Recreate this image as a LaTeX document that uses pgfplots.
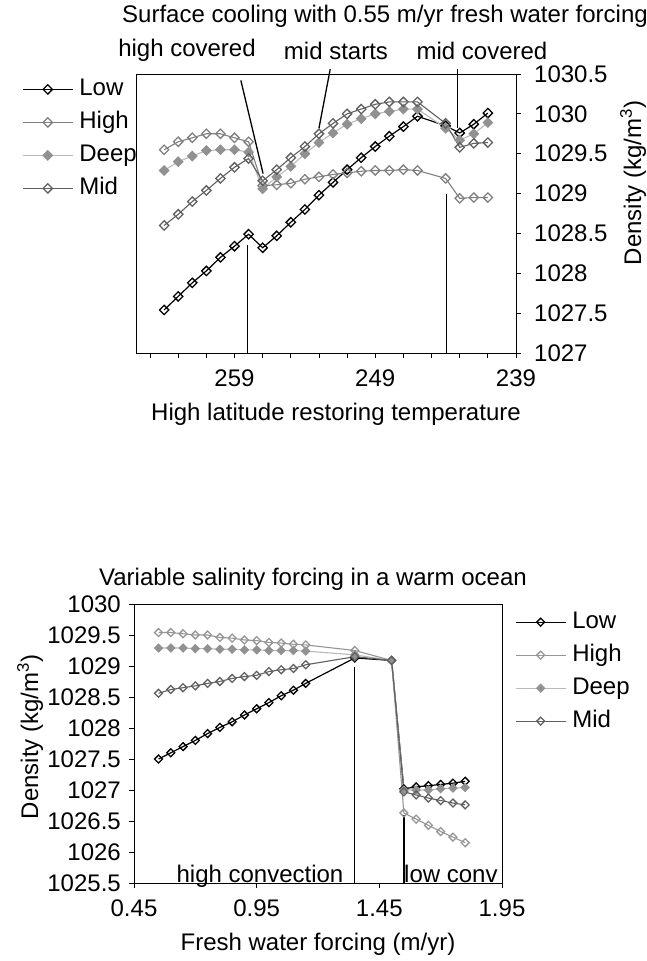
\documentclass[border=0pt]{standalone}
\usepackage{fontspec}
\setmainfont{Liberation Sans}
\usepackage{pgfplots}
\pgfplotsset{compat=1.18}
\definecolor{lowc}{RGB}{0,0,0}
\definecolor{highc}{RGB}{128,128,128}
\definecolor{highb}{RGB}{150,150,150}
\definecolor{deepl}{RGB}{185,185,185}
\definecolor{deepm}{RGB}{145,145,145}
\definecolor{midc}{RGB}{96,96,96}
\newcommand\fs{\fontsize{24}{28}\selectfont}

\pgfplotsset{
  chart/.style={
    scale only axis,
    axis line style={line width=0.9pt},
    tick align=outside,
    major tick length=5pt, minor tick length=5pt,
    every tick/.style={black, line width=0.9pt},
    tick label style={font=\fs},
    /pgf/number format/assume math mode=true,
    /pgf/number format/1000 sep={},
    clip=false,
    legend cell align=left,
    legend style={draw=none, fill=none, inner sep=0pt, row sep=11pt, font=\fs,
      nodes={inner sep=0pt, text height=17pt, text depth=5pt},
      /tikz/every odd column/.append style={column sep=6pt}},
    legend image code/.code={\draw[mark repeat=2,mark phase=2,##1]
      plot coordinates {(0pt,0pt) (25pt,0pt) (50pt,0pt)};},
  },
  lowS/.style={color=lowc, line width=1.2pt, mark=square,
    mark options={rotate=45, fill=white, line width=1.3pt}},
  highS/.style={color=highc, line width=1.1pt, mark=square,
    mark options={rotate=45, fill=white, line width=1.3pt}},
  deepS/.style={color=deepl, line width=1.1pt, mark=square*,
    mark options={rotate=45, draw=deepm, fill=deepm}},
  midS/.style={color=midc, line width=1.1pt, mark=square,
    mark options={rotate=45, fill=white, line width=1.3pt}},
}

\begin{document}
\fs
\begin{tikzpicture}
\useasboundingbox (0pt,0pt) rectangle (647pt,-961pt);

% ---- top chart
\begin{axis}[chart,
    at={(136pt,-353pt)}, anchor=south west,
    width=380pt, height=279pt,
    x dir=reverse,
    xmin=239, xmax=266, ymin=1027, ymax=1030.5,
    xtick={239,249,259},
    minor xtick={241,243,245,247,251,253,255,257,261,263,265},
    ytick={1027,1027.5,...,1030.5},
    xtick pos=left, ytick pos=right, yticklabel pos=right,
    xticklabel style={yshift=-4pt},
    yticklabel style={xshift=5pt},
    mark size=3.3pt,
    legend style={at={(-0.30,0.985)}, anchor=north west},
]
\addplot[lowS] coordinates {
 (264,1027.54) (263,1027.71) (262,1027.88) (261,1028.03) (260,1028.20)
 (259,1028.34) (258,1028.49) (257,1028.32) (256,1028.47) (255,1028.64)
 (254,1028.80) (253,1028.98) (252,1029.14) (251,1029.30) (250,1029.45)
 (249,1029.59) (248,1029.72) (247,1029.84) (246,1029.97) (244,1029.85)
 (243,1029.76) (242,1029.87) (241,1030.01)};
\addplot[highS] coordinates {
 (264,1029.55) (263,1029.65) (262,1029.70) (261,1029.75) (260,1029.75)
 (259,1029.70) (258,1029.65) (257,1029.10) (256,1029.11) (255,1029.13)
 (254,1029.18) (253,1029.21) (252,1029.24) (251,1029.26) (250,1029.28)
 (249,1029.29) (248,1029.29) (247,1029.30) (246,1029.29) (244,1029.19)
 (243,1028.94) (242,1028.95) (241,1028.95)};
\addplot[deepS] coordinates {
 (264,1029.29) (263,1029.40) (262,1029.47) (261,1029.54) (260,1029.55)
 (259,1029.55) (258,1029.52) (257,1029.06) (256,1029.21) (255,1029.34)
 (254,1029.50) (253,1029.64) (252,1029.76) (251,1029.87) (250,1029.94)
 (249,1030.00) (248,1030.03) (247,1030.06) (246,1030.06) (244,1029.82)
 (243,1029.67) (242,1029.75) (241,1029.89)};
\addplot[midS] coordinates {
 (264,1028.60) (263,1028.74) (262,1028.90) (261,1029.04) (260,1029.19)
 (259,1029.33) (258,1029.44) (257,1029.16) (256,1029.30) (255,1029.45)
 (254,1029.59) (253,1029.75) (252,1029.88) (251,1030.00) (250,1030.06)
 (249,1030.12) (248,1030.15) (247,1030.15) (246,1030.15) (244,1029.88)
 (243,1029.58) (242,1029.63) (241,1029.64)};
\legend{Low, High, Deep, Mid}
% annotation lines
\draw[line width=1.3pt] (axis cs:258.1,1027) -- (axis cs:258.1,1028.35);
\draw[line width=1.3pt] (axis cs:243.95,1027) -- (axis cs:243.95,1029.0);
\draw[line width=1.3pt] (axis cs:258.55,1030.42) -- (axis cs:256.97,1029.25);
\draw[line width=1.3pt] (axis cs:252.2,1030.56) -- (axis cs:253.0,1029.82);
\draw[line width=1.3pt] (axis cs:243.14,1030.56) -- (axis cs:243.14,1029.82);
\end{axis}

\node[anchor=base] at (385pt,-23pt) {Surface cooling with 0.55 m/yr fresh water forcing};
\node[anchor=base] at (187pt,-56pt) {high covered};
\node[anchor=base] at (336pt,-59pt) {mid starts};
\node[anchor=base] at (482pt,-59pt) {mid covered};
\node[anchor=base] at (336pt,-420pt) {High latitude restoring temperature};
\node[anchor=base, rotate=90] at (641pt,-183pt) {Density (kg/m\textsuperscript{3})};

% ---- bottom chart
\begin{axis}[chart,
    at={(134pt,-883pt)}, anchor=south west,
    width=368pt, height=279pt,
    xmin=0.45, xmax=1.95, ymin=1025.5, ymax=1030,
    xtick={0.45,0.95,1.45,1.95},
    xticklabels={0.45,0.95,1.45,1.95},
    ytick={1025.5,1026,...,1030},
    xtick pos=left, ytick pos=left,
    xticklabel style={yshift=-4pt},
    mark size=2.8pt,
    legend style={at={(1.035,0.975)}, anchor=north west},
    highS/.append style={color=highb},
]
\addplot[lowS] coordinates {
 (0.55,1027.50) (0.60,1027.60) (0.65,1027.70) (0.70,1027.80) (0.75,1027.91)
 (0.80,1028.01) (0.85,1028.10) (0.90,1028.21) (0.95,1028.31) (1.00,1028.41)
 (1.05,1028.52) (1.10,1028.61) (1.15,1028.72) (1.35,1029.13) (1.50,1029.09)
 (1.55,1027.02) (1.60,1027.05) (1.65,1027.07) (1.70,1027.09) (1.75,1027.11)
 (1.80,1027.14)};
\addplot[highS] coordinates {
 (0.55,1029.54) (0.60,1029.54) (0.65,1029.52) (0.70,1029.50) (0.75,1029.50)
 (0.80,1029.46) (0.85,1029.45) (0.90,1029.42) (0.95,1029.41) (1.00,1029.38)
 (1.05,1029.37) (1.10,1029.35) (1.15,1029.34) (1.35,1029.25) (1.50,1029.09)
 (1.55,1026.63) (1.60,1026.53) (1.65,1026.43) (1.70,1026.33) (1.75,1026.24)
 (1.80,1026.15)};
\addplot[deepS] coordinates {
 (0.55,1029.29) (0.60,1029.29) (0.65,1029.29) (0.70,1029.28) (0.75,1029.28)
 (0.80,1029.27) (0.85,1029.27) (0.90,1029.26) (0.95,1029.26) (1.00,1029.25)
 (1.05,1029.25) (1.10,1029.25) (1.15,1029.24) (1.35,1029.18) (1.50,1029.09)
 (1.55,1027.00) (1.60,1027.00) (1.65,1027.00) (1.70,1027.02) (1.75,1027.03)
 (1.80,1027.04)};
\addplot[midS] coordinates {
 (0.55,1028.56) (0.60,1028.62) (0.65,1028.65) (0.70,1028.68) (0.75,1028.72)
 (0.80,1028.75) (0.85,1028.80) (0.90,1028.83) (0.95,1028.85) (1.00,1028.91)
 (1.05,1028.94) (1.10,1028.96) (1.15,1029.02) (1.35,1029.15) (1.50,1029.09)
 (1.55,1026.97) (1.60,1026.92) (1.65,1026.87) (1.70,1026.83) (1.75,1026.79)
 (1.80,1026.76)};
\legend{Low, High, Deep, Mid}
\draw[line width=1.3pt] (axis cs:1.35,1025.5) -- (axis cs:1.35,1028.98);
\draw[line width=1.3pt] (axis cs:1.55,1025.5) -- (axis cs:1.55,1026.6);
\end{axis}

\node[anchor=base] at (313pt,-585pt) {Variable salinity forcing in a warm ocean};
\node[anchor=base] at (318pt,-950pt) {Fresh water forcing (m/yr)};
\node[anchor=base, rotate=90] at (38pt,-737pt) {Density (kg/m\textsuperscript{3})};
\node[anchor=base] at (260pt,-882pt) {high convection};
\node[anchor=base west, inner sep=0pt] at (404pt,-882pt) {low conv};
\end{tikzpicture}
\end{document}
